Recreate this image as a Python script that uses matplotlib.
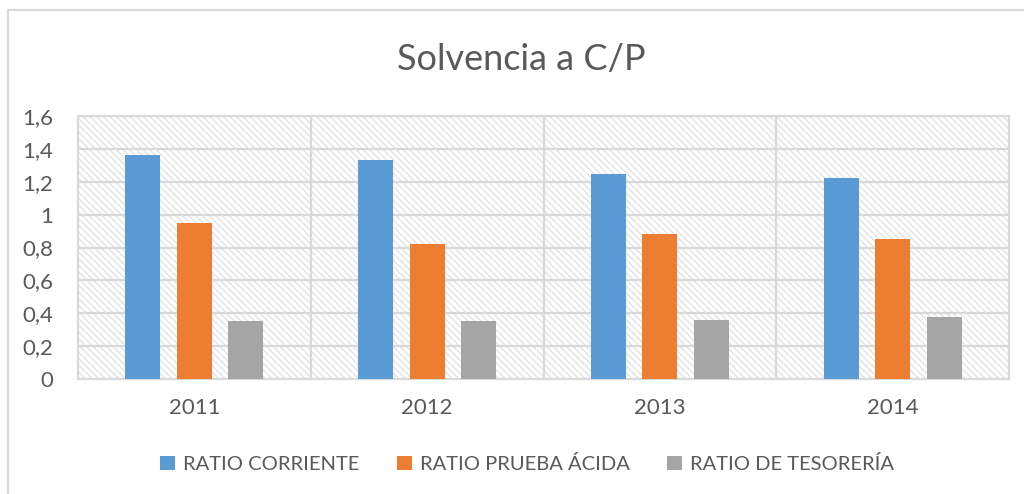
import numpy as np
import matplotlib
matplotlib.use('Agg')
import matplotlib.pyplot as plt
from matplotlib.patches import Rectangle, Patch
from matplotlib.lines import Line2D

years = ['2011', '2012', '2013', '2014']
ratio_corriente = [1.36, 1.33, 1.25, 1.22]
ratio_acida = [0.95, 0.82, 0.88, 0.85]
ratio_tesoreria = [0.35, 0.35, 0.36, 0.38]
series_names = ['RATIO CORRIENTE', 'RATIO PRUEBA ÁCIDA', 'RATIO DE TESORERÍA']
colors = ['#5B9BD5', '#ED7D31', '#A5A5A5']
yticks = [0, 0.2, 0.4, 0.6, 0.8, 1.0, 1.2, 1.4, 1.6]
ytick_labels = ['0', '0,2', '0,4', '0,6', '0,8', '1', '1,2', '1,4', '1,6']

txt = '#595959'
grid = '#d9d9d9'
plt.rcParams['font.family'] = ['Lato', 'DejaVu Sans']
plt.rcParams['hatch.linewidth'] = 0.9

fig = plt.figure(figsize=(10.24, 4.94), dpi=100)
ax = fig.add_axes([78/1024, 1-379/494, 931/1024, 263/494])

# hatched plot-area background
ax.add_patch(Rectangle((0, 0), 1, 1, transform=ax.transAxes, facecolor='white',
                       edgecolor='#e0e0e0', hatch='\\\\\\\\\\', lw=0, zorder=0))

x = np.arange(len(years))
w = 0.15
step = 0.221
for i, vals in enumerate([ratio_corriente, ratio_acida, ratio_tesoreria]):
    ax.bar(x + (i - 1) * step, vals, width=w, color=colors[i], zorder=3)

ax.set_xlim(-0.5, len(years) - 0.5)
ax.set_ylim(0, 1.6)
ax.set_yticks(yticks)
ax.set_yticklabels(ytick_labels)
ax.set_xticks(x)
ax.set_xticklabels(years)
ax.tick_params(axis='both', length=0, colors=txt, labelsize=16)
ax.tick_params(axis='y', pad=18)
ax.tick_params(axis='x', pad=14)

for yv in yticks[1:]:
    ax.axhline(yv, color=grid, lw=1.6, zorder=1)
for xv in np.arange(0.5, len(years) - 0.5):
    ax.axvline(xv, color=grid, lw=1.6, zorder=1)
for s in ax.spines.values():
    s.set_color(grid)
    s.set_linewidth(1.6)

fig.text(521/1024, 1-60/494, 'Solvencia a C/P', color=txt, fontsize=26,
         ha='center', va='center')

handles = [Patch(facecolor=c) for c in colors]
fig.legend(handles, series_names, loc='center', bbox_to_anchor=(0.515, 1-464/494),
           ncol=3, frameon=False, fontsize=14.5, labelcolor=txt,
           handlelength=0.75, handleheight=0.75, handletextpad=0.4, columnspacing=1.85)

# outer chart border (top & left visible)
fig.add_artist(Line2D([8/1024, 1.0], [1-10/494, 1-10/494], transform=fig.transFigure, color=grid, lw=1.6))
fig.add_artist(Line2D([8/1024, 8/1024], [0, 1-10/494], transform=fig.transFigure, color=grid, lw=1.6))

fig.savefig('out.png', dpi=100)
